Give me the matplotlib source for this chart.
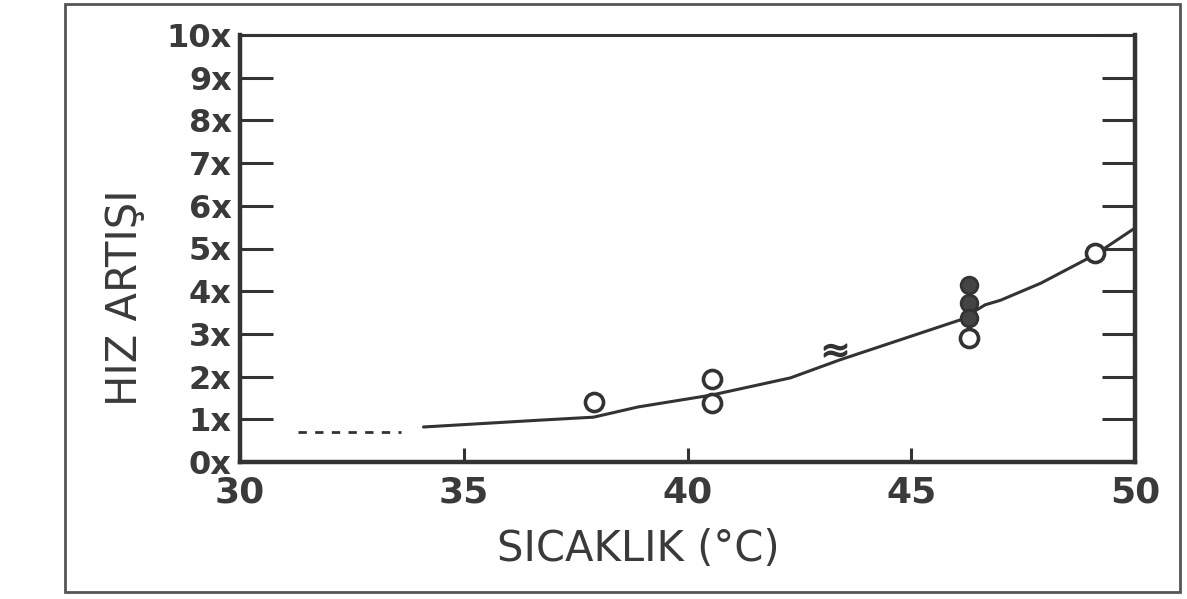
import matplotlib
matplotlib.use("Agg")
import matplotlib.pyplot as plt
from matplotlib.patches import Rectangle

# ---- data ----
curve_t = [34.1, 36.7, 37.9, 38.9, 40.55, 42.3, 43.4, 44.75, 46.1, 46.65, 47.0, 47.9, 49.1, 50.0]
curve_v = [0.82, 0.98, 1.05, 1.29, 1.57, 1.97, 2.39, 2.86, 3.33, 3.68, 3.79, 4.19, 4.85, 5.48]
dash_t = [31.3, 33.6]
dash_v = [0.70, 0.70]
open_t = [37.9, 40.55, 40.55, 46.3, 49.1]
open_v = [1.41, 1.94, 1.38, 2.90, 4.89]
filled_t = [46.3, 46.3, 46.3]
filled_v = [4.15, 3.72, 3.37]
other_t = [43.3]
other_v = [2.62]
x_ticks = [30, 35, 40, 45, 50]
y_ticks = list(range(0, 11))
y_ticklabels = [f"{v}x" for v in y_ticks]
x_label = "SICAKLIK (°C)"
y_label = "HIZ ARTIŞI"

ink = "#333333"

fig = plt.figure(figsize=(11.87, 5.99), dpi=100)
fig.patch.set_facecolor("white")
# outer frame
fig.patches.append(Rectangle((65/1187, 1-592/599), (1180-65)/1187, (592-4)/599,
                             transform=fig.transFigure, fill=False,
                             edgecolor="#555555", linewidth=2))

ax = fig.add_axes([240/1187, 1-462/599, (1135-240)/1187, (462-35)/599])
ax.set_xlim(30, 50)
ax.set_ylim(0, 10)

for side in ["left", "bottom", "right"]:
    ax.spines[side].set_linewidth(3.2)
    ax.spines[side].set_color(ink)
ax.spines["top"].set_linewidth(2.2)
ax.spines["top"].set_color(ink)

ax.plot(curve_t, curve_v, color=ink, linewidth=2.2, solid_capstyle="round")
ax.plot(dash_t, dash_v, color=ink, linewidth=2.0, linestyle=(0, (3, 3)))
ax.plot(open_t, open_v, linestyle="none", marker="o", markersize=13,
        markerfacecolor="white", markeredgecolor=ink, markeredgewidth=2.6)
ax.plot(filled_t, filled_v, linestyle="none", marker="o", markersize=12,
        markerfacecolor="#444444", markeredgecolor=ink, markeredgewidth=2)
ax.plot(other_t, other_v, linestyle="none", marker="$\u2248$", markersize=16,
        color=ink)

ax.set_xticks(x_ticks)
ax.set_xticklabels([str(t) for t in x_ticks], fontsize=26, color="#3a3a3a",
                   fontweight="bold")
ax.set_yticks(y_ticks)
ax.set_yticklabels(y_ticklabels, fontsize=23, color="#3a3a3a", fontweight="bold")
ax.tick_params(axis="y", direction="in", length=24, width=2.2, color=ink,
               pad=6, left=True, right=True)
ax.tick_params(axis="x", direction="in", length=10, width=2.2, color=ink,
               pad=10, top=False)
ax.tick_params(axis="y", which="both", labelright=False)

ax.set_xlabel(x_label, fontsize=30, color="#3a3a3a")
ax.xaxis.set_label_coords(0.445, -0.155)
ax.set_ylabel(y_label, fontsize=30, color="#3a3a3a")
ax.yaxis.set_label_coords(-0.105, 0.384)

fig.savefig("out.png", dpi=100, facecolor="white")
